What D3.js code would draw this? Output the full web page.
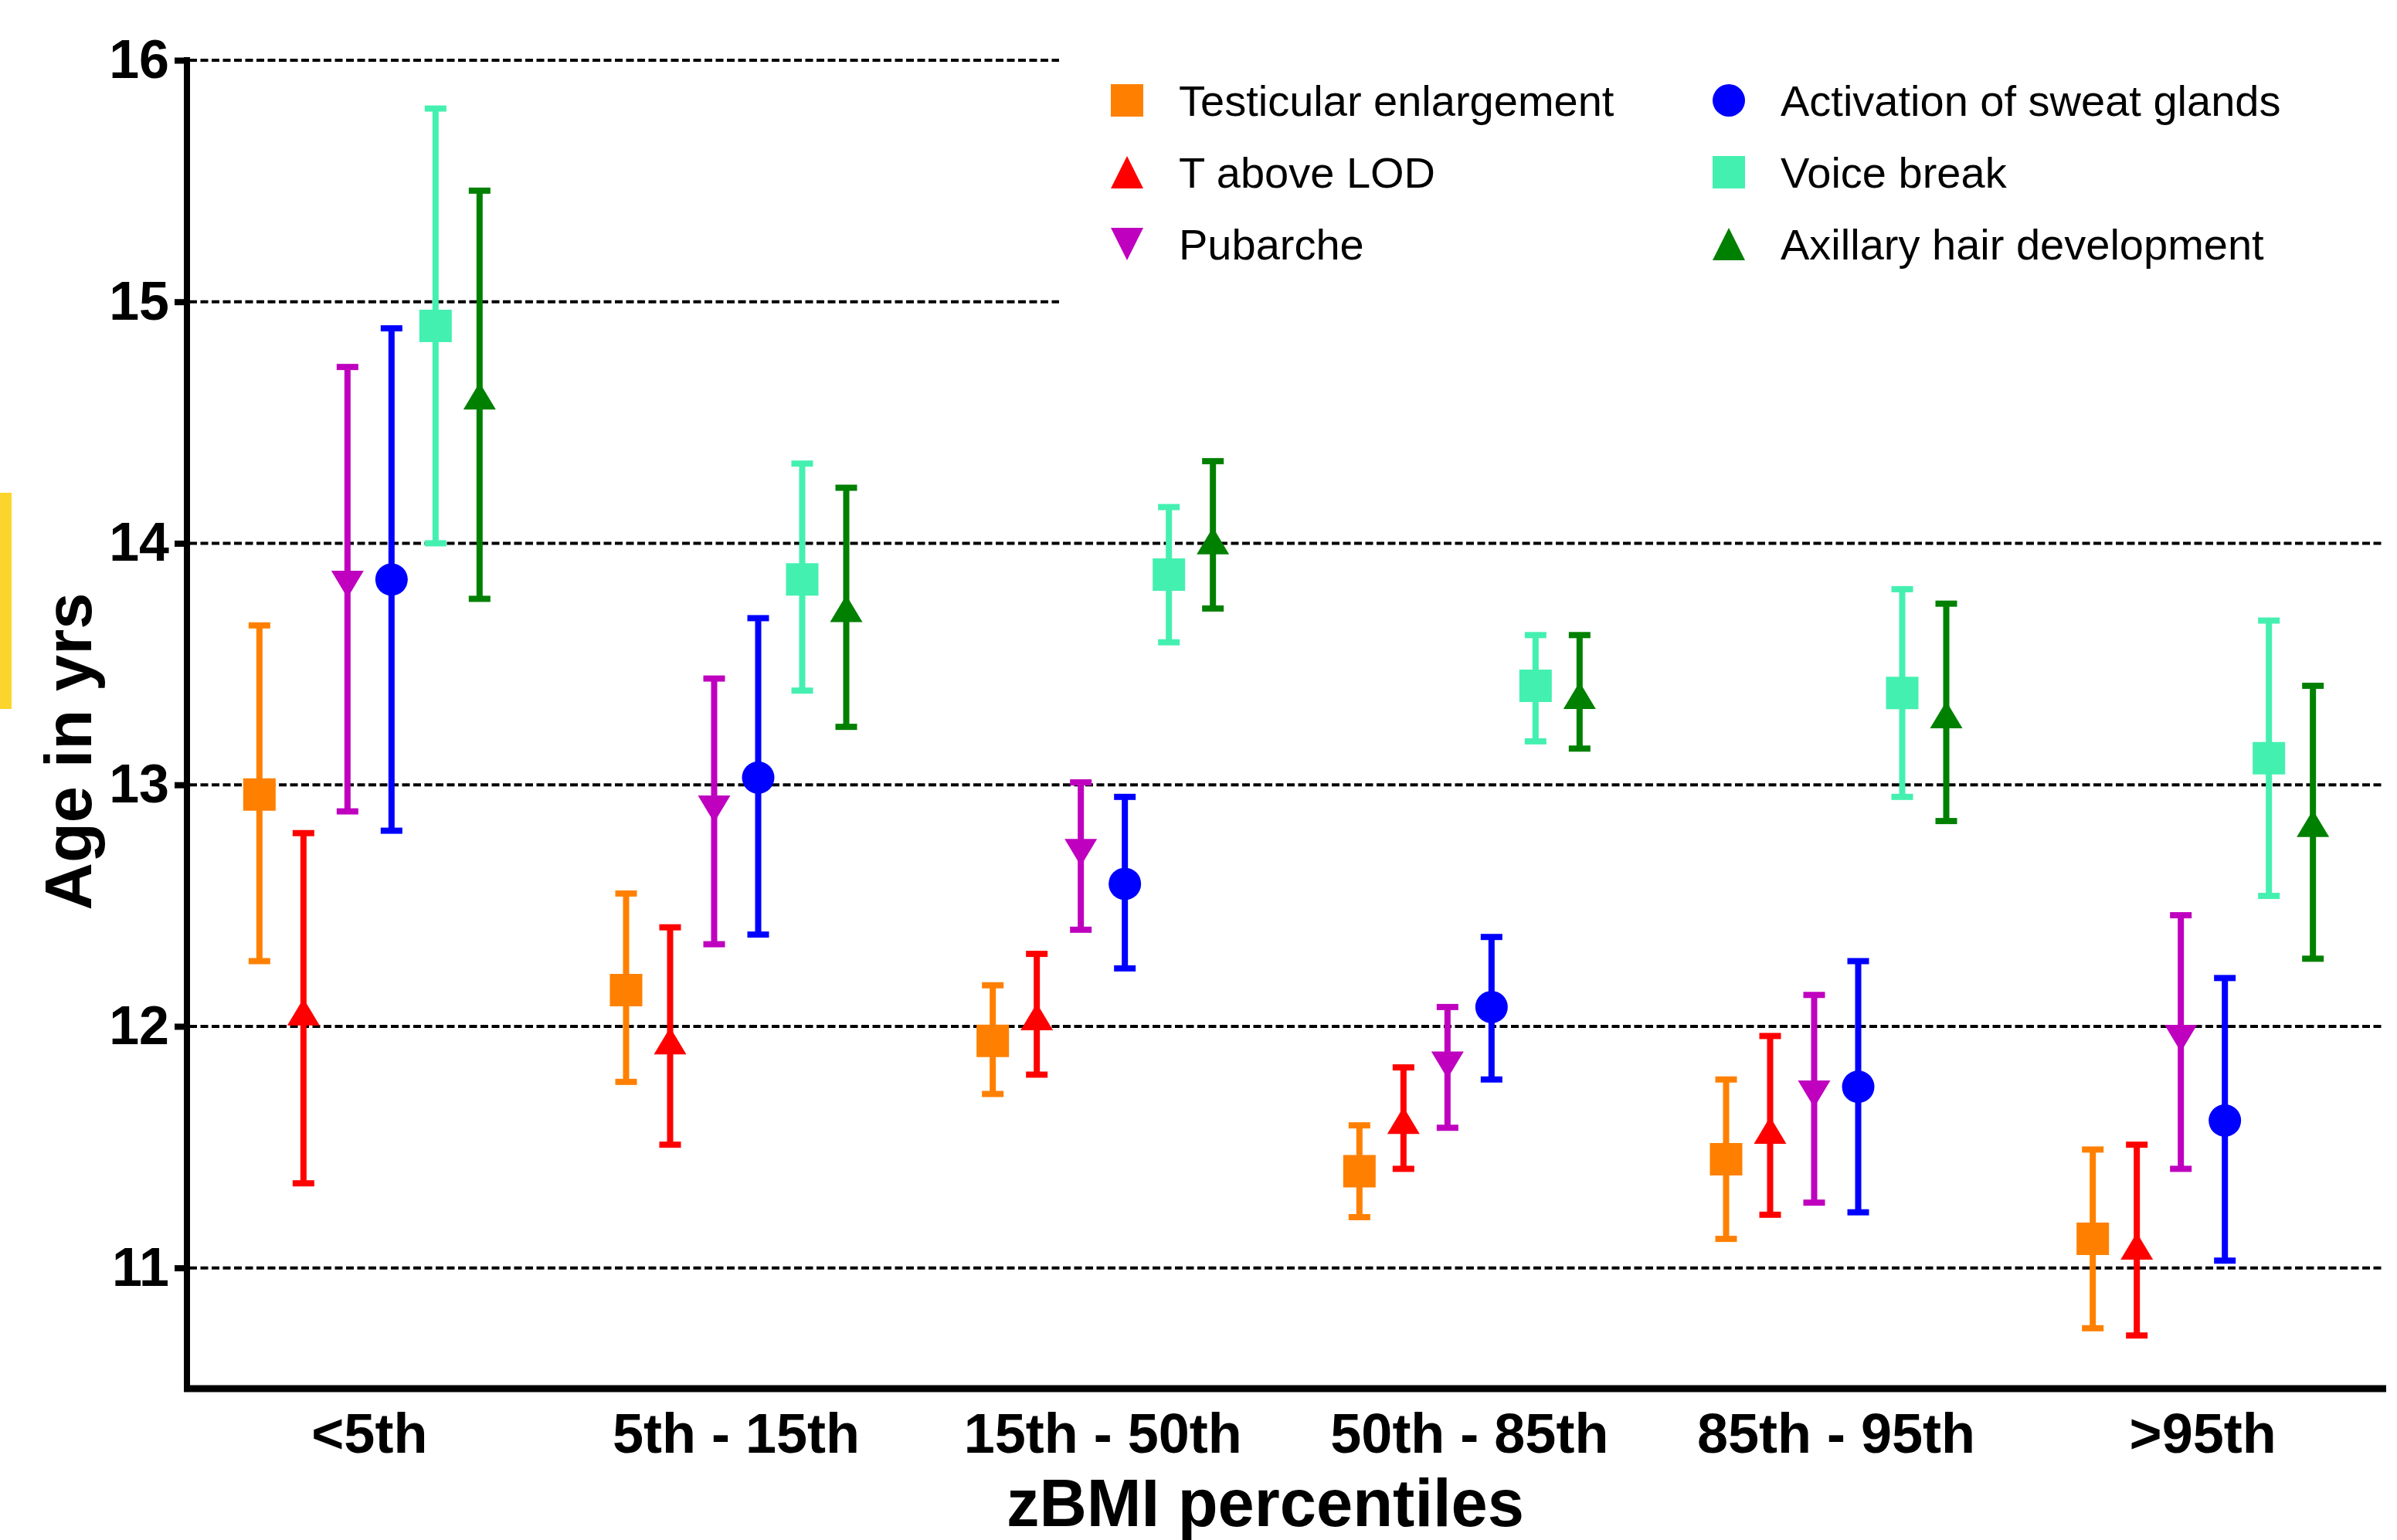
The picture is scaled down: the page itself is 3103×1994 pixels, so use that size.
<!DOCTYPE html>
<html lang="en">
<head>
<meta charset="UTF-8">
<title>Age at pubertal milestones by zBMI percentile</title>
<script src="https://d3js.org/d3.v7.min.js"></script>
<style>
  html, body { margin: 0; background: #fff; overflow: hidden; }
  text { font-family: "Liberation Sans", Arial, sans-serif; }
</style>
</head>
<body>
<svg id="svg"></svg>
<script>
// categories on the x axis
const categories = ['<5th', '5th - 15th', '15th - 50th', '50th - 85th', '85th - 95th', '>95th'];
const seriesNames = ['Testicular enlargement', 'T above LOD', 'Pubarche',
                     'Activation of sweat glands', 'Voice break', 'Axillary hair development'];
const yTicks = [11, 12, 13, 14, 15, 16];

// mean age and the two ends of each error bar, per category
const testicularMean = [12.96, 12.15, 11.94, 11.40, 11.45, 11.12];
const testicularLow  = [12.27, 11.77, 11.72, 11.21, 11.12, 10.75];
const testicularHigh = [13.66, 12.55, 12.17, 11.59, 11.78, 11.49];

const lodMean = [12.06, 11.94, 12.04, 11.61, 11.57, 11.09];
const lodLow  = [11.35, 11.51, 11.80, 11.41, 11.22, 10.72];
const lodHigh = [12.80, 12.41, 12.30, 11.83, 11.96, 11.51];

const pubarcheMean = [13.83, 12.90, 12.72, 11.84, 11.72, 11.95];
const pubarcheLow  = [12.89, 12.34, 12.40, 11.58, 11.27, 11.41];
const pubarcheHigh = [14.73, 13.44, 13.01, 12.08, 12.13, 12.46];

const sweatMean = [13.85, 13.03, 12.59, 12.08, 11.75, 11.61];
const sweatLow  = [12.81, 12.38, 12.24, 11.78, 11.23, 11.03];
const sweatHigh = [14.89, 13.69, 12.95, 12.37, 12.27, 12.20];

const voiceMean = [14.90, 13.85, 13.87, 13.41, 13.38, 13.11];
const voiceLow  = [14.00, 13.39, 13.59, 13.18, 12.95, 12.54];
const voiceHigh = [15.80, 14.33, 14.15, 13.62, 13.81, 13.68];

const axillaryMean = [14.61, 13.73, 14.01, 13.37, 13.29, 12.84];
const axillaryLow  = [13.77, 13.24, 13.73, 13.15, 12.85, 12.28];
const axillaryHigh = [15.46, 14.23, 14.34, 13.62, 13.75, 13.41];

const colors = ['#ff8000', '#ff0000', '#bf00bf', '#0000ff', '#44f0b0', '#008000'];
const shapes = ['square', 'up', 'down', 'circle', 'square', 'up'];

const series = [
    [testicularMean, testicularLow, testicularHigh],
    [lodMean, lodLow, lodHigh],
    [pubarcheMean, pubarcheLow, pubarcheHigh],
    [sweatMean, sweatLow, sweatHigh],
    [voiceMean, voiceLow, voiceHigh],
    [axillaryMean, axillaryLow, axillaryHigh]
].map((s, i) => ({
    name: seriesNames[i], color: colors[i], shape: shapes[i],
    points: categories.map((c, j) => ({ cat: c, mean: s[0][j], low: s[1][j], high: s[2][j] }))
}));

const width = 3103, height = 1994;
const svg = d3.select('#svg').attr('width', width).attr('height', height);

const x = d3.scaleBand().domain(categories).range([241, 3089]);
const offset = d3.scalePoint().domain(seriesNames).range([-142.5, 142.5]);
const y = d3.scaleLinear().domain([10.5, 16]).range([1798, 78]);

// marker path, centred on 0,0
const markerPath = (shape, w, h) => {
    const a = w / 2, b = h / 2;
    if (shape === 'square') return `M${-a},${-b}H${a}V${b}H${-a}Z`;
    if (shape === 'up') return `M0,${-b}L${a},${b}H${-a}Z`;
    if (shape === 'down') return `M${-a},${-b}H${a}L0,${b}Z`;
    return `M${-a},0A${a},${b} 0 1,0 ${a},0A${a},${b} 0 1,0 ${-a},0Z`;
};
const markerSize = s => s === 'up' || s === 'down' ? [42, 35] : [42, 42];

// yellow strip at the left edge
svg.append('rect').attr('x', 0).attr('y', 638).attr('width', 15).attr('height', 280).attr('fill', '#fbd52b');

// dashed gridlines
svg.append('g').selectAll('line').data(yTicks).join('line')
    .attr('x1', 245).attr('x2', 3085)
    .attr('y1', d => y(d)).attr('y2', d => y(d))
    .attr('stroke', '#000').attr('stroke-width', 4).attr('stroke-dasharray', '10,4.5');

// legend background hides the top gridlines
svg.append('rect').attr('x', 1371).attr('y', 0).attr('width', width - 1371).attr('height', 430).attr('fill', '#fff');

// y axis
const yAxis = svg.append('g').attr('transform', 'translate(242,0)')
    .call(d3.axisLeft(y).tickValues(yTicks).tickSize(16).tickSizeOuter(0).tickPadding(7).tickFormat(d3.format('d')));
yAxis.select('.domain').attr('stroke-width', 8).attr('d', `M0,${y(16) - 4}V${y(10.5)}`);
yAxis.selectAll('.tick line').attr('stroke-width', 8);
yAxis.selectAll('.tick text').attr('font-size', 70).attr('font-weight', 'bold')
    .attr('font-family', '"Liberation Sans", Arial, sans-serif').attr('fill', '#000');

// x axis
const xAxis = svg.append('g').attr('transform', `translate(0,${y(10.5)})`)
    .call(d3.axisBottom(x).tickSize(0).tickSizeOuter(0));
xAxis.select('.domain').attr('stroke-width', 9).attr('d', `M238,0H3089`);
xAxis.selectAll('.tick text').attr('font-size', 72).attr('font-weight', 'bold')
    .attr('font-family', '"Liberation Sans", Arial, sans-serif').attr('fill', '#000')
    .attr('dy', null).attr('y', 83);

// axis titles
svg.append('text').attr('x', 1638).attr('y', 1976).attr('text-anchor', 'middle')
    .attr('font-size', 88).attr('font-weight', 'bold')
    .attr('textLength', 670).attr('lengthAdjust', 'spacingAndGlyphs')
    .text('zBMI percentiles');
svg.append('text').attr('transform', 'translate(118,973) rotate(-90)').attr('text-anchor', 'middle')
    .attr('font-size', 85).attr('font-weight', 'bold').text('Age in yrs');

// error bars and markers
const groups = svg.append('g').selectAll('g').data(series).join('g')
    .attr('fill', d => d.color).attr('stroke', d => d.color);

groups.each(function (s) {
    const g = d3.select(this);
    const px = p => x(p.cat) + x.bandwidth() / 2 + offset(s.name);
    g.selectAll('.bar').data(s.points).join('line').attr('class', 'bar')
        .attr('x1', px).attr('x2', px)
        .attr('y1', p => y(p.high)).attr('y2', p => y(p.low))
        .attr('stroke-width', 8);
    g.selectAll('.cap').data(s.points.flatMap(p => [[p, p.high], [p, p.low]])).join('line').attr('class', 'cap')
        .attr('x1', d => px(d[0]) - 14).attr('x2', d => px(d[0]) + 14)
        .attr('y1', d => y(d[1])).attr('y2', d => y(d[1]))
        .attr('stroke-width', 8);
    const [mw, mh] = markerSize(s.shape);
    g.selectAll('.marker').data(s.points).join('path').attr('class', 'marker')
        .attr('stroke', 'none')
        .attr('transform', p => `translate(${px(p)},${y(p.mean)})`)
        .attr('d', markerPath(s.shape, mw, mh));
});

// legend, two columns of three
const legendX = [1459, 2238];
const legendY = [130, 223, 316];
const legend = svg.append('g').selectAll('g').data(series).join('g')
    .attr('transform', (d, i) => `translate(${legendX[Math.floor(i / 3)]},${legendY[i % 3]})`);
legend.append('path').attr('fill', d => d.color).attr('d', d => markerPath(d.shape, 42, 42));
legend.append('text').attr('x', 67).attr('y', 20).attr('font-size', 56).attr('fill', '#000').text(d => d.name);
</script>
</body>
</html>
